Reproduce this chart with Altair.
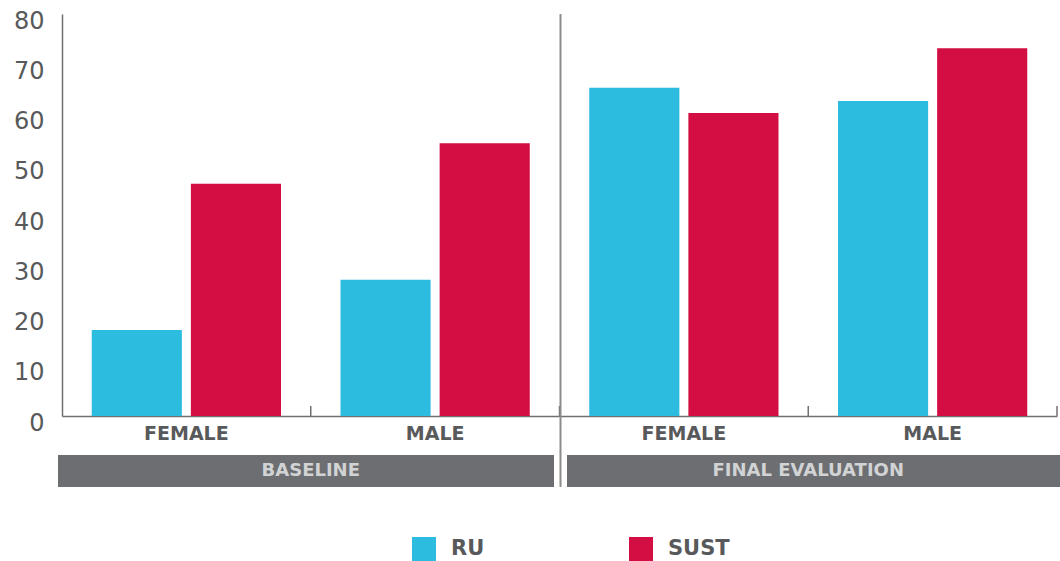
import altair as alt
import pandas as pd

# Survey results by evaluation round and gender
stages = ["BASELINE", "FINAL EVALUATION"]
genders = ["FEMALE", "MALE"]
series = ["RU", "SUST"]
ru_values = [17.1, 27.1, 65.3, 62.7]
sust_values = [46.2, 54.3, 60.3, 73.2]
y_ticks = [0, 10, 20, 30, 40, 50, 60, 70, 80]

colors = ["#2bbce0", "#d20e42"]
text_gray = "#58595b"
axis_gray = "#707072"
box_gray = "#6d6e71"
font = "DejaVu Sans"

groups = [f"{s}|{g}" for s in stages for g in genders]

rows = []
for grp, ru, su in zip(groups, ru_values, sust_values):
    rows.append({"grp": grp, "series": "RU", "value": ru})
    rows.append({"grp": grp, "series": "SUST", "value": su})
bars_df = pd.DataFrame(rows)

ticks_df = pd.DataFrame({"grp": groups})
divider_df = pd.DataFrame({"grp": [groups[2]]})
boxes_df = pd.DataFrame({
    "stage": stages,
    "first": [groups[0], groups[2]],
    "last": [groups[1], groups[3]],
})

x_scale = alt.Scale(domain=groups, paddingInner=0, paddingOuter=0)
y_scale = alt.Scale(domain=[0, 80], nice=False, zero=True)

bars = alt.Chart(bars_df).mark_bar().encode(
    x=alt.X(
        "grp:N", scale=x_scale, title=None,
        axis=alt.Axis(
            labelExpr="split(datum.value, '|')[1]",
            labelAngle=0, ticks=False, domainColor=axis_gray,
            domainWidth=1.5, labelFont=font, labelFontWeight="bold",
            labelFontSize=19, labelColor=text_gray, labelPadding=17,
            labelBaseline="middle",
        ),
    ),
    xOffset=alt.XOffset(
        "series:N", sort=series,
        scale=alt.Scale(paddingInner=0.0909, paddingOuter=0.3),
    ),
    y=alt.Y(
        "value:Q", scale=y_scale, title=None,
        axis=alt.Axis(
            values=y_ticks, grid=False, ticks=False, domainColor=axis_gray,
            domainWidth=1.5, labelFont=font, labelFontSize=24,
            labelColor=text_gray, labelPadding=18, labelOffset=7,
        ),
    ),
    color=alt.Color(
        "series:N", sort=series, title=None,
        scale=alt.Scale(domain=series, range=colors),
        legend=alt.Legend(
            orient="none", legendX=350, legendY=523, direction="horizontal",
            symbolType="square", symbolSize=576, symbolStrokeWidth=0,
            labelFont=font, labelFontWeight="bold", labelFontSize=21,
            labelColor=text_gray, labelOffset=15, columnPadding=144,
            padding=0,
        ),
    ),
)

# short inward ticks at the band boundaries
ticks = alt.Chart(ticks_df).mark_rule(color=axis_gray, strokeWidth=1.5).encode(
    x=alt.X("grp:N", bandPosition=1, scale=x_scale, title=None),
    y=alt.datum(0),
    y2=alt.datum(2),
)

# vertical separator between the two rounds
divider = alt.Chart(divider_df).mark_rule(
    color="#8c8c8e", strokeWidth=2, xOffset=1
).encode(
    x=alt.X("grp:N", bandPosition=0, scale=x_scale, title=None),
    y=alt.value(0),
    y2=alt.value(473),
)

def stage_box(stage, x_off, x2_off):
    return alt.Chart(boxes_df[boxes_df["stage"] == stage]).mark_rect(
        color=box_gray, xOffset=x_off, x2Offset=x2_off
    ).encode(
        x=alt.X("first:N", bandPosition=0, scale=x_scale, title=None),
        x2=alt.X2("last:N", bandPosition=1),
        y=alt.value(441),
        y2=alt.value(473),
    )

box_base = stage_box("BASELINE", -4, -5.5)
box_final = stage_box("FINAL EVALUATION", 7.5, 3)

box_text = alt.Chart(boxes_df).mark_text(
    color="#d1d3d4", font=font, fontWeight="bold", fontSize=18,
    align="center", baseline="middle",
).encode(
    x=alt.X("first:N", bandPosition=1, scale=x_scale, title=None),
    y=alt.value(457),
    text="stage:N",
)

chart = alt.layer(
    bars, ticks, divider, box_base, box_final, box_text
).properties(
    width=995,
    height=402,
    autosize=alt.AutoSizeParams(type="none"),
    padding={"left": 62, "top": 14, "right": 3, "bottom": 145},
    background="white",
).configure_view(stroke=None)

chart.save("out.html", embed_options={"renderer": "svg", "actions": False})
